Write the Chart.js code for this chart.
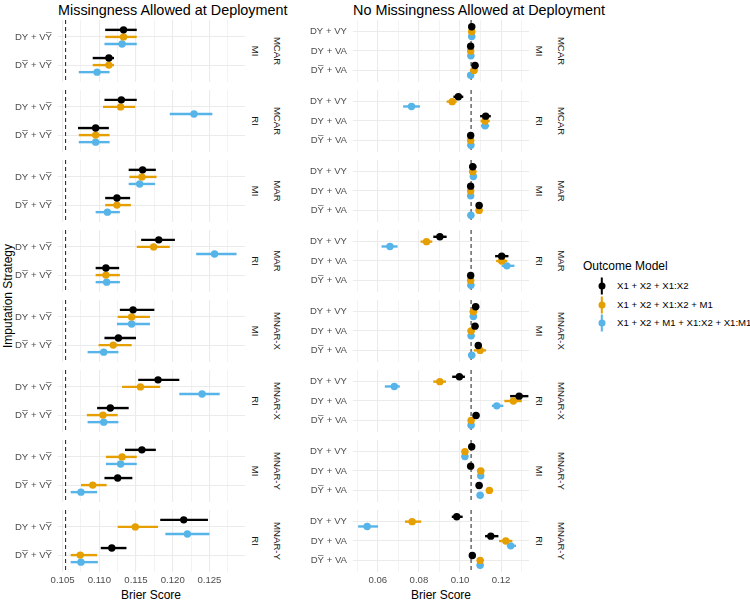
<!DOCTYPE html>
<html>
<head>
<meta charset="utf-8">
<script src="https://cdn.jsdelivr.net/npm/chart.js@4.4.1/dist/chart.umd.min.js"></script>
<style>
  body { margin: 0; background: #fff; }
  #wrap { position: relative; width: 750px; height: 600px; overflow: hidden;
          font-family: "Liberation Sans", Arial, "DejaVu Sans", sans-serif; }
  #wrap canvas { position: absolute; }
  .txt { position: absolute; white-space: nowrap; line-height: 1; }
  .title { font-size: 14.4px; color: #000; top: 3px; }
  .axis-title { font-size: 12px; color: #000; transform: translate(-50%, -50%); }
  .strip { font-size: 9.6px; color: #1a1a1a; transform: translate(-50%, -50%) rotate(90deg); }
  .ytitle { font-size: 12px; color: #000; transform: translate(-50%, -50%) rotate(-90deg); }
  .leg-text { font-size: 9.6px; color: #000; transform: translateY(-50%); }
  .key-line { position: absolute; width: 2.4px; height: 17px; transform: translate(-50%, -50%); }
  .key-dot { position: absolute; width: 7px; height: 7px; border-radius: 50%; transform: translate(-50%, -50%); }
</style>
</head>
<body>
<div id="wrap">
  <div class="txt title" style="left:58px">Missingness Allowed at Deployment</div>
  <div class="txt title" style="left:353px">No Missingness Allowed at Deployment</div>
  <div class="txt ytitle" style="left:8px; top:296px">Imputation Strategy</div>
  <div class="txt axis-title" style="left:151px; top:595px">Brier Score</div>
  <div class="txt axis-title" style="left:441px; top:595px">Brier Score</div>
  <div class="txt" style="left:583px; top:260px; font-size:12px">Outcome Model</div>
</div>
<script>
// facets, top to bottom
const mechanisms = ['MCAR', 'MCAR', 'MAR', 'MAR', 'MNAR-X', 'MNAR-X', 'MNAR-Y', 'MNAR-Y'];
const strategies = ['MI', 'RI', 'MI', 'RI', 'MI', 'RI', 'MI', 'RI'];

const leftRows = ['DY + VY\u0305', 'DY\u0305 + VY\u0305'];
const rightRows = ['DY + VY', 'DY + VA', 'DY\u0305 + VA'];

const models = ['X1 + X2 + X1:X2', 'X1 + X2 + X1:X2 + M1', 'X1 + X2 + M1 + X1:X2 + X1:M1'];
const modelColors = ['#000000', '#E69F00', '#56B4E9'];

const refScore = 0.1054;

// left panel: 2 rows per facet (facet order as above)
const leftEst1 = [0.1133, 0.1113, 0.1130, 0.1095, 0.1159, 0.1124, 0.1181, 0.1109, 0.1146, 0.1126, 0.1180, 0.1115, 0.1158, 0.1125, 0.1215, 0.1117];
const leftLo1  = [0.1108, 0.1091, 0.1107, 0.1071, 0.1140, 0.1108, 0.1157, 0.1095, 0.1128, 0.1107, 0.1153, 0.1097, 0.1135, 0.1107, 0.1183, 0.1102];
const leftHi1  = [0.1151, 0.1120, 0.1151, 0.1113, 0.1177, 0.1142, 0.1203, 0.1127, 0.1175, 0.1150, 0.1209, 0.1140, 0.1177, 0.1145, 0.1248, 0.1137];
const leftEst2 = [0.1133, 0.1113, 0.1129, 0.1095, 0.1158, 0.1124, 0.1174, 0.1109, 0.1144, 0.1119, 0.1156, 0.1105, 0.1131, 0.1091, 0.1149, 0.1074];
const leftLo2  = [0.1108, 0.1091, 0.1105, 0.1072, 0.1141, 0.1108, 0.1151, 0.1095, 0.1125, 0.1099, 0.1131, 0.1083, 0.1109, 0.1075, 0.1125, 0.1061];
const leftHi2  = [0.1151, 0.1120, 0.1149, 0.1114, 0.1178, 0.1143, 0.1196, 0.1128, 0.1169, 0.1144, 0.1183, 0.1125, 0.1151, 0.1110, 0.1180, 0.1097];
const leftEst3 = [0.1131, 0.1097, 0.1229, 0.1095, 0.1155, 0.1111, 0.1257, 0.1110, 0.1144, 0.1106, 0.1240, 0.1106, 0.1129, 0.1075, 0.1220, 0.1075];
const leftLo3  = [0.1107, 0.1072, 0.1196, 0.1072, 0.1140, 0.1095, 0.1232, 0.1095, 0.1124, 0.1084, 0.1209, 0.1084, 0.1109, 0.1061, 0.1190, 0.1061];
const leftHi3  = [0.1151, 0.1114, 0.1254, 0.1114, 0.1176, 0.1128, 0.1287, 0.1128, 0.1169, 0.1126, 0.1264, 0.1126, 0.1151, 0.1097, 0.1250, 0.1098];

// right panel: 3 rows per facet
const rightEst1 = [0.1057, 0.1052, 0.1073,  0.0992, 0.1125, 0.1052,  0.1062, 0.1052, 0.1093,  0.0902, 0.1203, 0.1052,
                   0.1076, 0.1073, 0.1089,  0.0997, 0.1288, 0.1078,  0.1057, 0.1052, 0.1093,  0.0984, 0.1150, 0.1060];
const rightLo1  = [0.1042, 0.1037, 0.1058,  0.0968, 0.1098, 0.1037,  0.1045, 0.1037, 0.1078,  0.0870, 0.1171, 0.1037,
                   0.1060, 0.1058, 0.1073,  0.0962, 0.1244, 0.1062,  0.1042, 0.1037, 0.1077,  0.0960, 0.1122, 0.1045];
const rightHi1  = [0.1074, 0.1067, 0.1090,  0.1016, 0.1150, 0.1067,  0.1080, 0.1067, 0.1110,  0.0935, 0.1236, 0.1067,
                   0.1094, 0.1090, 0.1106,  0.1024, 0.1333, 0.1095,  0.1072, 0.1067, 0.1110,  0.1013, 0.1187, 0.1075];
const rightEst2 = [0.1057, 0.1052, 0.1068,  0.0962, 0.1122, 0.1052,  0.1062, 0.1052, 0.1093,  0.0837, 0.1203, 0.1052,
                   0.1065, 0.1054, 0.1098,  0.0902, 0.1260, 0.1054,  0.1024, 0.1101, 0.1143,  0.0767, 0.1223, 0.1098];
const rightLo2  = [0.1041, 0.1036, 0.1051,  0.0935, 0.1100, 0.1037,  0.1044, 0.1037, 0.1077,  0.0808, 0.1176, 0.1037,
                   0.1047, 0.1037, 0.1068,  0.0870, 0.1216, 0.1039,  0.1008, 0.1084, 0.1126,  0.0732, 0.1190, 0.1082];
const rightHi2  = [0.1074, 0.1068, 0.1086,  0.0984, 0.1145, 0.1067,  0.1080, 0.1067, 0.1110,  0.0865, 0.1230, 0.1067,
                   0.1084, 0.1072, 0.1127,  0.0932, 0.1301, 0.1070,  0.1040, 0.1118, 0.1161,  0.0811, 0.1255, 0.1115];
const rightEst3 = [0.1057, 0.1053, 0.1052,  0.0764, 0.1122, 0.1053,  0.1065, 0.1052, 0.1053,  0.0659, 0.1228, 0.1053,
                   0.1065, 0.1054, 0.1057,  0.0680, 0.1179, 0.1054,  0.1024, 0.1101, 0.1098,  0.0548, 0.1247, 0.1098];
const rightLo3  = [0.1041, 0.1037, 0.1036,  0.0723, 0.1102, 0.1037,  0.1049, 0.1036, 0.1037,  0.0618, 0.1203, 0.1037,
                   0.1048, 0.1038, 0.1040,  0.0634, 0.1155, 0.1038,  0.1008, 0.1085, 0.1082,  0.0504, 0.1228, 0.1082];
const rightHi3  = [0.1074, 0.1069, 0.1068,  0.0805, 0.1142, 0.1069,  0.1082, 0.1068, 0.1069,  0.0696, 0.1265, 0.1069,
                   0.1083, 0.1071, 0.1074,  0.0707, 0.1211, 0.1071,  0.1040, 0.1117, 0.1115,  0.0601, 0.1273, 0.1115];

// x tick breaks
const leftMajor = [0.105, 0.110, 0.115, 0.120, 0.125];
const leftMinor = [0.1075, 0.1125, 0.1175, 0.1225, 0.1275];
const rightMajor = [0.06, 0.08, 0.10, 0.12];
const rightMinor = [0.05, 0.07, 0.09, 0.11, 0.13];

const dodge = [-0.25, 0, 0.25];
const facetTop = 20, facetH = 62, facetPitch = 70, xAxisH = 16;

const panels = [
  { rows: leftRows, est: [leftEst1, leftEst2, leftEst3], lo: [leftLo1, leftLo2, leftLo3], hi: [leftHi1, leftHi2, leftHi3],
    plotLeft: 58, plotW: 187, axisW: 44, xMin: 0.10437, xMax: 0.12985,
    major: leftMajor, minor: leftMinor, digits: 3, stripIn: 255, stripOut: 277 },
  { rows: rightRows, est: [rightEst1, rightEst2, rightEst3], lo: [rightLo1, rightLo2, rightLo3], hi: [rightHi1, rightHi2, rightHi3],
    plotLeft: 353, plotW: 176, axisW: 60, xMin: 0.0479, xMax: 0.1336,
    major: rightMajor, minor: rightMinor, digits: 2, stripIn: 539, stripOut: 561 }
];

// reference line + horizontal intervals, drawn under the points
const intervals = {
  id: 'intervals',
  beforeDatasetsDraw(chart) {
    const { ctx, chartArea, scales: { x, y } } = chart;
    ctx.save();
    ctx.beginPath();
    ctx.rect(chartArea.left, chartArea.top, chartArea.width, chartArea.height);
    ctx.clip();
    const rx = x.getPixelForValue(refScore);
    ctx.setLineDash([4, 3]);
    ctx.strokeStyle = '#333';
    ctx.lineWidth = 1.1;
    ctx.beginPath();
    ctx.moveTo(rx, chartArea.top);
    ctx.lineTo(rx, chartArea.bottom);
    ctx.stroke();
    ctx.setLineDash([]);
    ctx.lineWidth = 2.4;
    chart.data.datasets.forEach(ds => {
      ctx.strokeStyle = ds.backgroundColor;
      ds.data.forEach(d => {
        const py = y.getPixelForValue(d.y);
        ctx.beginPath();
        ctx.moveTo(x.getPixelForValue(d.lo), py);
        ctx.lineTo(x.getPixelForValue(d.hi), py);
        ctx.stroke();
      });
    });
    ctx.restore();
  }
};

const wrap = document.getElementById('wrap');
const isIn = (v, arr) => arr.some(a => Math.abs(a - v) < 1e-9);

function addText(cls, left, top, text) {
  const el = document.createElement('div');
  el.className = 'txt ' + cls;
  el.style.left = left + 'px';
  el.style.top = top + 'px';
  el.textContent = text;
  wrap.appendChild(el);
}

panels.forEach(p => {
  const nRows = p.rows.length;
  for (let f = 0; f < mechanisms.length; f++) {
    const last = f === mechanisms.length - 1;
    const canvas = document.createElement('canvas');
    canvas.width = p.axisW + p.plotW;
    canvas.height = facetH + (last ? xAxisH : 0);
    canvas.style.left = (p.plotLeft - p.axisW) + 'px';
    canvas.style.top = (facetTop + f * facetPitch) + 'px';
    wrap.appendChild(canvas);

    const datasets = models.map((m, k) => ({
      label: m,
      data: p.rows.map((r, i) => {
        const j = f * nRows + i;
        return { x: p.est[k][j], y: i + 1 + dodge[k], lo: p.lo[k][j], hi: p.hi[k][j] };
      }),
      backgroundColor: modelColors[k],
      borderColor: modelColors[k],
      pointRadius: 3.7,
      pointBorderWidth: 0,
      pointHoverRadius: 3.7
    }));

    new Chart(canvas, {
      type: 'scatter',
      data: { datasets },
      options: {
        responsive: false,
        devicePixelRatio: 1,
        animation: false,
        events: [],
        layout: { autoPadding: false, padding: 0 },
        plugins: { legend: { display: false }, tooltip: { enabled: false } },
        scales: {
          x: {
            type: 'linear',
            min: p.xMin,
            max: p.xMax,
            afterBuildTicks: s => { s.ticks = p.major.concat(p.minor).sort((a, b) => a - b).map(v => ({ value: v })); },
            afterFit: s => {
              s.height = last ? xAxisH : 0;
              s.paddingLeft = 0; s.paddingRight = 0; s.paddingTop = 0; s.paddingBottom = 0;
            },
            grid: {
              color: '#EBEBEB',
              lineWidth: c => isIn(c.tick.value, p.major) ? 1.1 : 0.6,
              drawTicks: false
            },
            border: { display: false },
            ticks: {
              display: last,
              autoSkip: false,
              maxRotation: 0,
              padding: 3,
              color: '#4D4D4D',
              font: { size: 9.6, family: '"Liberation Sans", Arial, sans-serif' },
              callback: v => isIn(v, p.major) ? v.toFixed(p.digits) : ''
            }
          },
          y: {
            type: 'linear',
            min: 0.4,
            max: nRows + 0.6,
            reverse: true,
            afterBuildTicks: s => { s.ticks = p.rows.map((r, i) => ({ value: i + 1 })); },
            afterFit: s => {
              s.width = p.axisW;
              s.paddingLeft = 0; s.paddingRight = 0; s.paddingTop = 0; s.paddingBottom = 0;
            },
            grid: { color: '#EBEBEB', lineWidth: 1.1, drawTicks: false },
            border: { display: false },
            ticks: {
              autoSkip: false,
              padding: 6,
              color: '#4D4D4D',
              font: { size: 9.6, family: '"Liberation Sans", Arial, "DejaVu Sans", sans-serif' },
              callback: v => p.rows[Math.round(v) - 1]
            }
          }
        }
      },
      plugins: [intervals]
    });

    const cy = facetTop + f * facetPitch + facetH / 2;
    addText('strip', p.stripIn, cy, strategies[f]);
    addText('strip', p.stripOut, cy, mechanisms[f]);
  }
});

// legend
models.forEach((m, k) => {
  const cy = 286 + k * 18.7;
  const line = document.createElement('div');
  line.className = 'key-line';
  line.style.left = '602px';
  line.style.top = cy + 'px';
  line.style.background = modelColors[k];
  wrap.appendChild(line);
  const dot = document.createElement('div');
  dot.className = 'key-dot';
  dot.style.left = '602px';
  dot.style.top = cy + 'px';
  dot.style.background = modelColors[k];
  wrap.appendChild(dot);
  addText('leg-text', 617, cy, m);
});
</script>
</body>
</html>
